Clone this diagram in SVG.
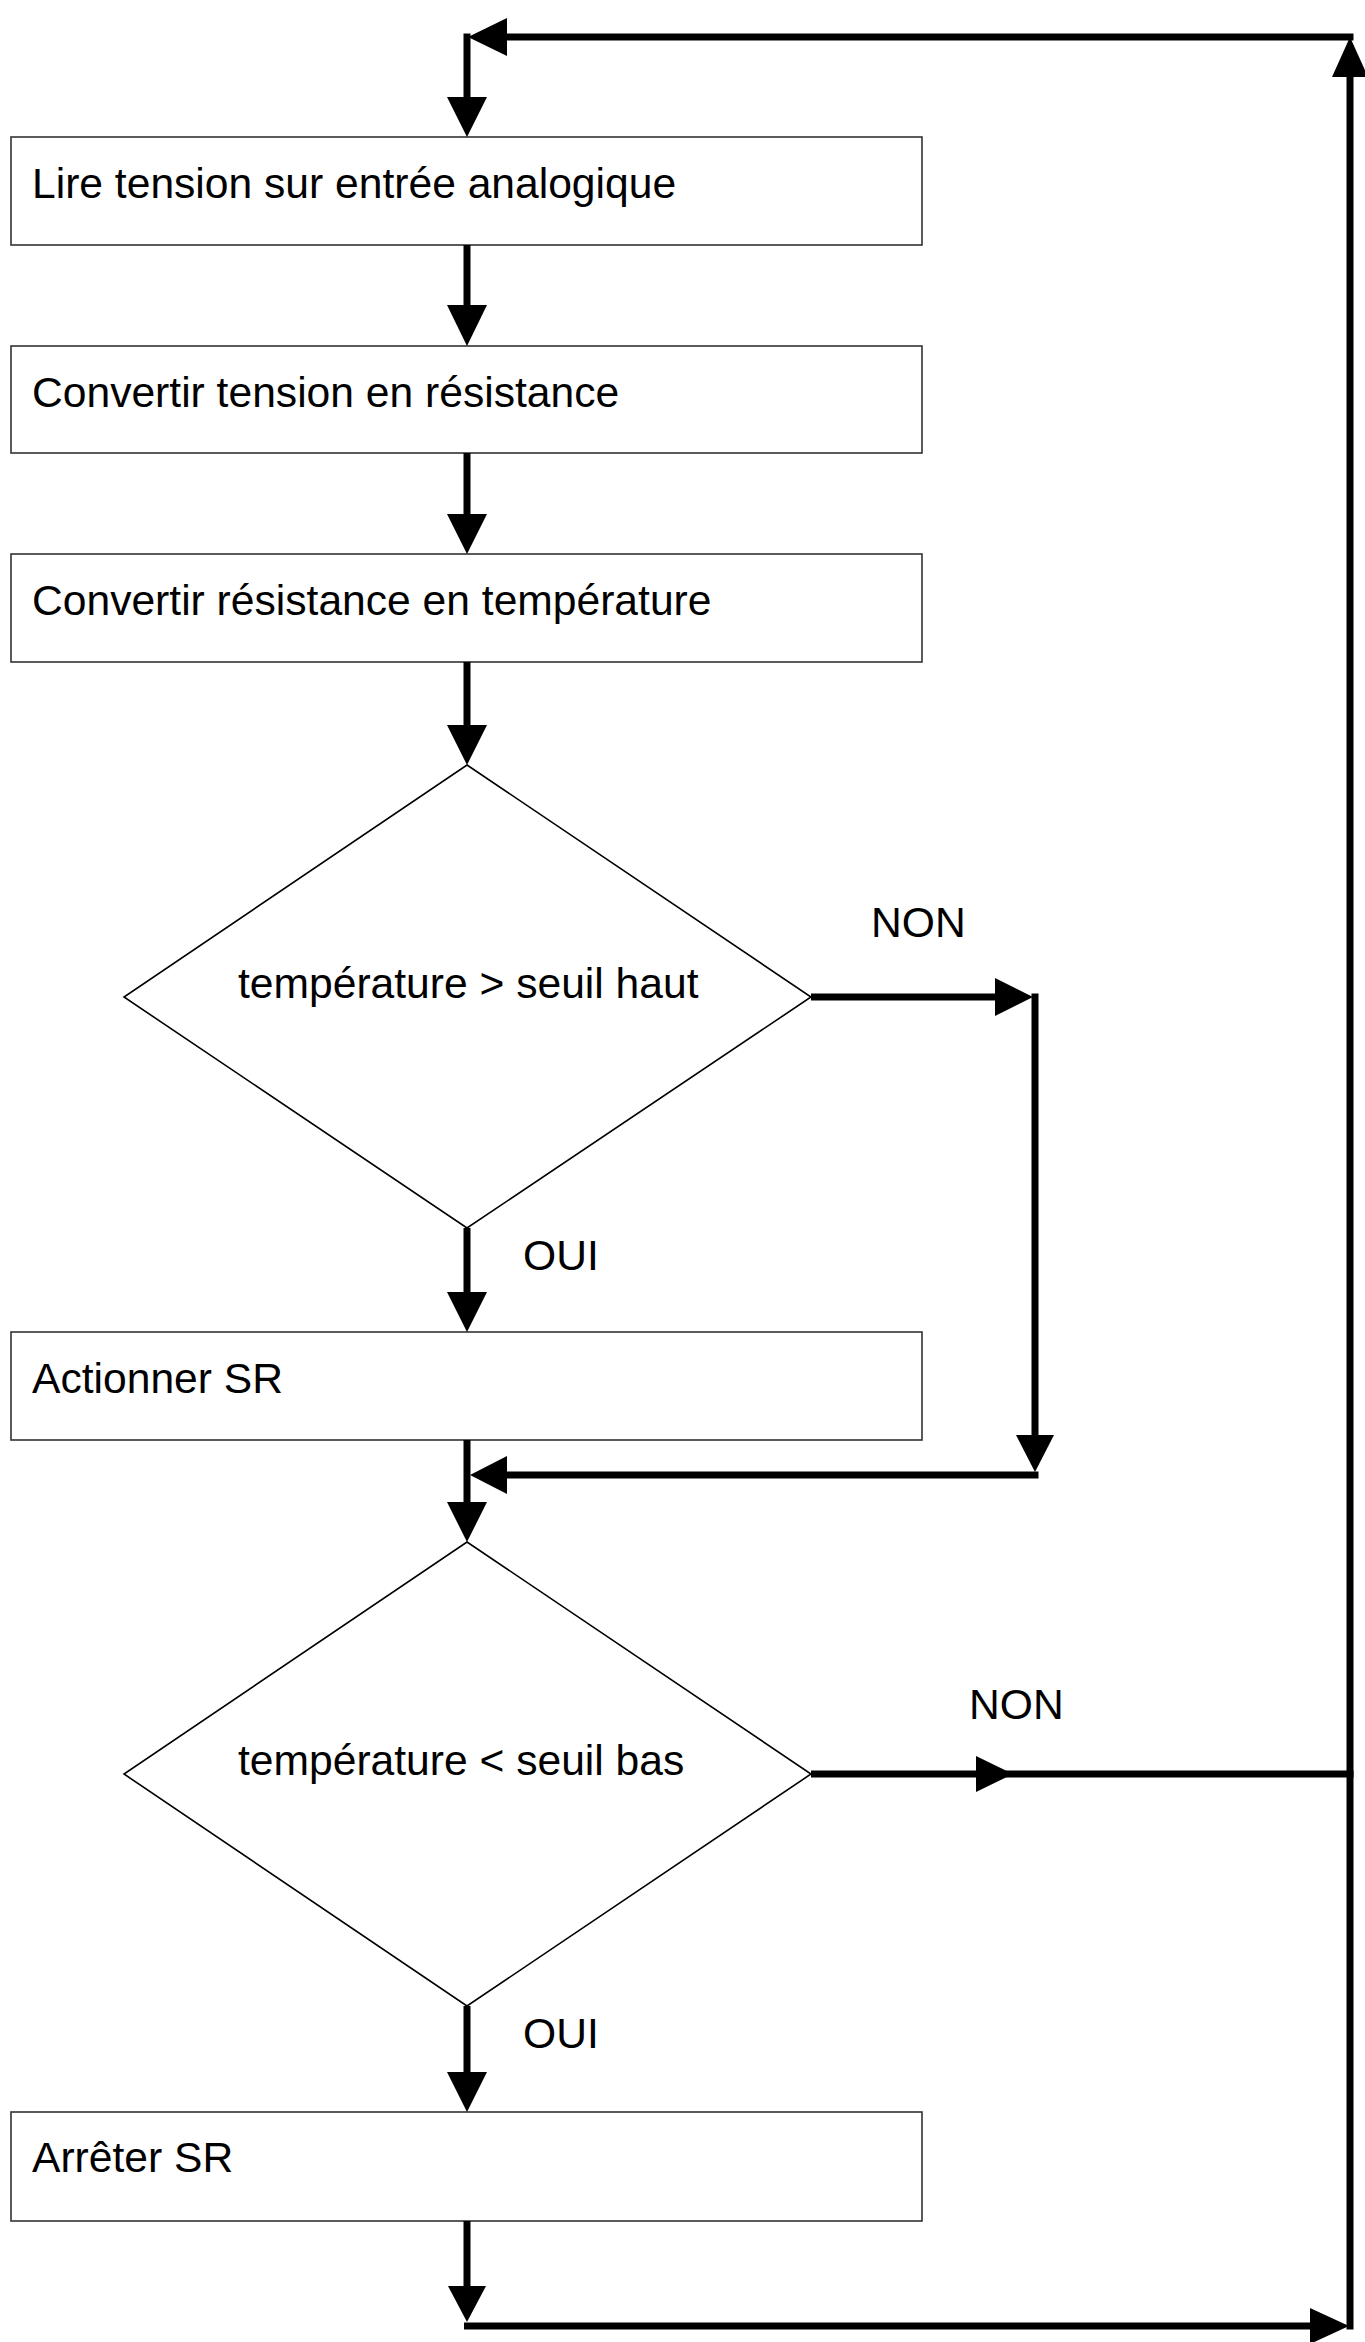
<svg xmlns="http://www.w3.org/2000/svg" width="1365" height="2342" viewBox="0 0 1365 2342">
<style>
.box{fill:#fff;stroke:#333;stroke-width:1.6}
.dia{fill:#fff;stroke:#000;stroke-width:1.6}
.t{font-family:"Liberation Sans",Arial,sans-serif;font-size:42.6px;fill:#000}
.ln{fill:none;stroke:#000;stroke-width:7}
.ah{fill:#000;stroke:none}
</style>
<rect width="1365" height="2342" fill="#fff"/>
<g id="n1"><rect class="box" x="11" y="137" width="911" height="108"/><text class="t" x="32" y="198">Lire tension sur entrée analogique</text></g>
<g id="n2"><rect class="box" x="11" y="346" width="911" height="107"/><text class="t" x="32" y="407">Convertir tension en résistance</text></g>
<g id="n3"><rect class="box" x="11" y="554" width="911" height="108"/><text class="t" x="32" y="615">Convertir résistance en température</text></g>
<g id="d1"><polygon class="dia" points="467,765 811,997 467,1228 124,997"/><text class="t" x="238" y="998">température &gt; seuil haut</text></g>
<g id="n4"><rect class="box" x="11" y="1332" width="911" height="108"/><text class="t" x="32" y="1393">Actionner SR</text></g>
<g id="d2"><polygon class="dia" points="467,1542 811,1774 467,2006 124,1774"/><text class="t" x="238" y="1775">température &lt; seuil bas</text></g>
<g id="n5"><rect class="box" x="11" y="2112" width="911" height="109"/><text class="t" x="32" y="2172">Arrêter SR</text></g>
<g id="connectors">
<path class="ln" d="M1350,2329.5 V77"/>
<polygon class="ah" points="1350,37 1332,77 1368,77"/>
<path class="ln" d="M1353.5,37 H507"/>
<polygon class="ah" points="468,37 507,18 507,56"/>
<path class="ln" d="M467,33.5 V97"/>
<polygon class="ah" points="467,137 447,97 487,97"/>
<path class="ln" d="M467,245 V305"/>
<polygon class="ah" points="467,346 447,305 487,305"/>
<path class="ln" d="M467,453 V514"/>
<polygon class="ah" points="467,554 447,514 487,514"/>
<path class="ln" d="M467,662 V725"/>
<polygon class="ah" points="467,765 447,725 487,725"/>
<path class="ln" d="M811,997 H995"/>
<polygon class="ah" points="1033,997 995,978 995,1016"/>
<path class="ln" d="M1035,993.5 V1435"/>
<polygon class="ah" points="1035,1472 1016,1435 1054,1435"/>
<path class="ln" d="M1038.5,1475 H507"/>
<polygon class="ah" points="470,1475 507,1456 507,1494"/>
<path class="ln" d="M467,1228 V1292"/>
<polygon class="ah" points="467,1332 447,1292 487,1292"/>
<path class="ln" d="M467,1440 V1502"/>
<polygon class="ah" points="467,1542 447,1502 487,1502"/>
<path class="ln" d="M811,1774 H1353.5"/>
<polygon class="ah" points="1013,1774 976,1756 976,1792"/>
<path class="ln" d="M467,2006 V2072"/>
<polygon class="ah" points="467,2112 447,2072 487,2072"/>
<path class="ln" d="M467,2221 V2286"/>
<polygon class="ah" points="467,2322 448,2286 486,2286"/>
<path class="ln" d="M464,2326 H1310"/>
<polygon class="ah" points="1349,2326 1310,2308 1310,2344"/>
</g>
<g id="labels">
<text class="t" x="871" y="937">NON</text>
<text class="t" x="969" y="1719">NON</text>
<text class="t" x="523" y="1270">OUI</text>
<text class="t" x="523" y="2048">OUI</text>
</g>
</svg>
